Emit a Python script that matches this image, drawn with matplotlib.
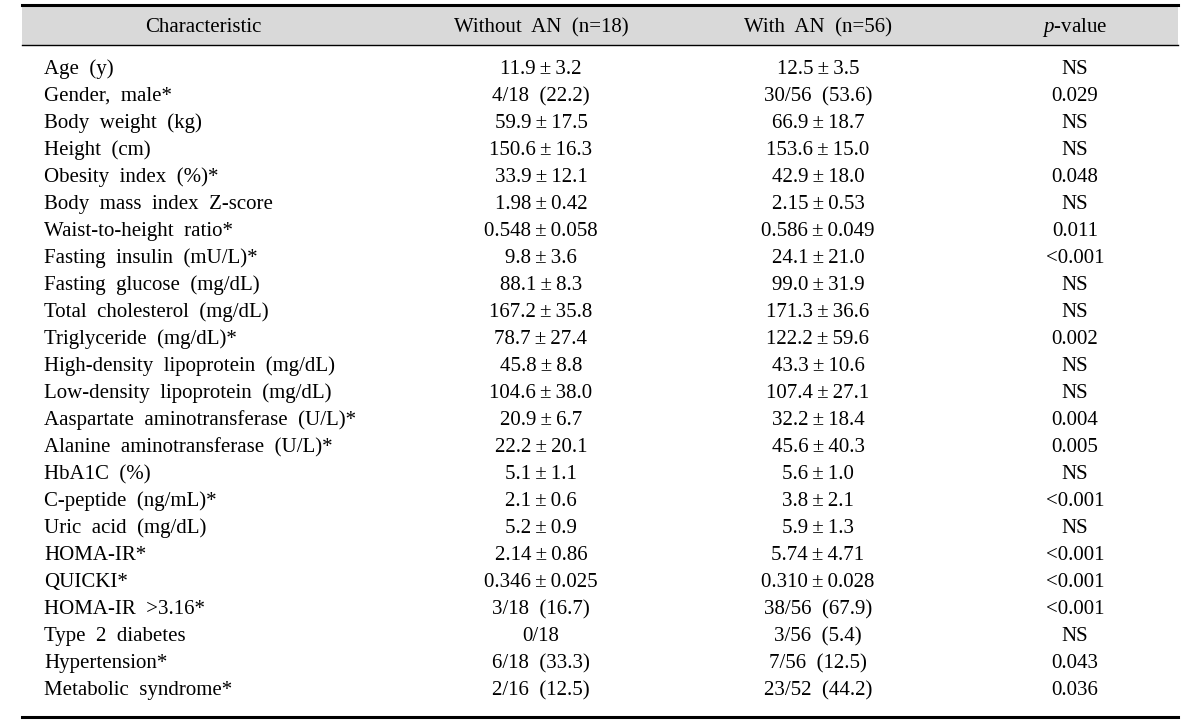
import matplotlib.pyplot as plt

characteristics = [
    "Age (y)", "Gender, male*", "Body weight (kg)", "Height (cm)",
    "Obesity index (%)*", "Body mass index Z-score", "Waist-to-height ratio*",
    "Fasting insulin (mU/L)*", "Fasting glucose (mg/dL)",
    "Total cholesterol (mg/dL)", "Triglyceride (mg/dL)*",
    "High-density lipoprotein (mg/dL)", "Low-density lipoprotein (mg/dL)",
    "Aaspartate aminotransferase (U/L)*", "Alanine aminotransferase (U/L)*",
    "HbA1C (%)", "C-peptide (ng/mL)*", "Uric acid (mg/dL)", "HOMA-IR*",
    "QUICKI*", "HOMA-IR >3.16*", "Type 2 diabetes", "Hypertension*",
    "Metabolic syndrome*",
]
without_an = [
    "11.9±3.2", "4/18 (22.2)", "59.9±17.5", "150.6±16.3", "33.9±12.1",
    "1.98±0.42", "0.548±0.058", "9.8±3.6", "88.1±8.3", "167.2±35.8",
    "78.7±27.4", "45.8±8.8", "104.6±38.0", "20.9±6.7", "22.2±20.1",
    "5.1±1.1", "2.1±0.6", "5.2±0.9", "2.14±0.86", "0.346±0.025",
    "3/18 (16.7)", "0/18", "6/18 (33.3)", "2/16 (12.5)",
]
with_an = [
    "12.5±3.5", "30/56 (53.6)", "66.9±18.7", "153.6±15.0", "42.9±18.0",
    "2.15±0.53", "0.586±0.049", "24.1±21.0", "99.0±31.9", "171.3±36.6",
    "122.2±59.6", "43.3±10.6", "107.4±27.1", "32.2±18.4", "45.6±40.3",
    "5.6±1.0", "3.8±2.1", "5.9±1.3", "5.74±4.71", "0.310±0.028",
    "38/56 (67.9)", "3/56 (5.4)", "7/56 (12.5)", "23/52 (44.2)",
]
p_values = [
    "NS", "0.029", "NS", "NS", "0.048", "NS", "0.011", "<0.001", "NS", "NS",
    "0.002", "NS", "NS", "0.004", "0.005", "NS", "<0.001", "NS", "<0.001",
    "<0.001", "<0.001", "NS", "0.043", "0.036",
]
headers = ["Characteristic", "Without AN (n=18)", "With AN (n=56)", "$p$-value"]

W, H = 1200, 723
plt.rcParams["font.family"] = ["Liberation Serif", "DejaVu Serif"]
plt.rcParams["mathtext.fontset"] = "custom"
plt.rcParams["mathtext.it"] = "Liberation Serif:italic"
plt.rcParams["mathtext.rm"] = "Liberation Serif"

fig = plt.figure(figsize=(W / 100, H / 100), dpi=100)
ax = fig.add_axes([0, 0, 1, 1])
ax.set_xlim(0, W)
ax.set_ylim(H, 0)
ax.axis("off")

fs = 15


def fmt(s):
    # wide word spacing and a bit of air around ± like the original typesetting
    return s.replace(" ", "  ").replace("±", "\u2009±\u2009")


x0, x1 = 22, 1178

# header band and rules
ax.fill_between([x0, x1], 5, 45, color="#d9d9d9", lw=0)
ax.plot([x0, x1], [5, 5], color="black", lw=2.2)
ax.plot([x0, x1], [45, 45], color="black", lw=1.0)
ax.plot([x0, x1], [717, 717], color="black", lw=2.2)

col_x = [203, 541, 818, 1075]
for x, h in zip(col_x, headers):
    ax.text(x, 32, fmt(h), ha="center", va="baseline", fontsize=fs)

y_first, step = 74, 27
for i, (c, a, b, p) in enumerate(zip(characteristics, without_an, with_an, p_values)):
    y = y_first + i * step
    ax.text(44, y, fmt(c), ha="left", va="baseline", fontsize=fs)
    ax.text(col_x[1], y, fmt(a), ha="center", va="baseline", fontsize=fs)
    ax.text(col_x[2], y, fmt(b), ha="center", va="baseline", fontsize=fs)
    ax.text(col_x[3], y, fmt(p), ha="center", va="baseline", fontsize=fs)

fig.savefig("out.png", dpi=100)
